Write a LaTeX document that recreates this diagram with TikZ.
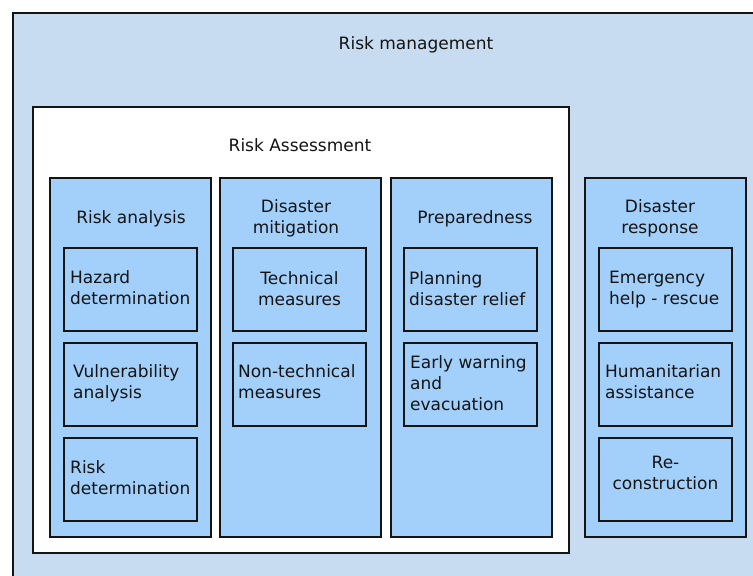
\documentclass[tikz,border=0pt]{standalone}
\usepackage{fontspec}
\setmainfont{DejaVu Sans}
\definecolor{outerblue}{RGB}{199,220,240}
\definecolor{colblue}{RGB}{163,208,251}
\definecolor{ink}{RGB}{20,20,20}
\tikzset{
  txt/.style={inner sep=0pt, align=left, font=\fontsize{17}{21}\selectfont, text=ink},
  ctxt/.style={txt, align=center},
  colbox/.style={draw=ink, line width=2pt, fill=colblue, minimum width=161pt, minimum height=359pt, inner sep=0pt},
  ibox/.style={draw=ink, line width=2pt, fill=colblue, minimum width=133pt, minimum height=83pt, inner sep=0pt},
}
\begin{document}
\begin{tikzpicture}[x=1pt,y=-1pt]
\useasboundingbox (0,0) rectangle (753,576);
\clip (0,0) rectangle (753,576);
% outer
\node[draw=ink, line width=2pt, fill=outerblue, minimum width=760pt, minimum height=580pt, inner sep=0pt, anchor=north west] (outer) at (12,12) {};
\node[txt] (tmgmt) at (416,45) {Risk management};
% risk assessment
\node[draw=ink, line width=2pt, fill=white, minimum width=536pt, minimum height=446pt, inner sep=0pt, anchor=north west] (assess) at (32,106) {};
\node[txt] (tassess) at (300,145) {Risk Assessment};
% columns
\node[colbox, anchor=north west] (c1) at (49,177) {};
\node[colbox, anchor=north west] (c2) at (219,177) {};
\node[colbox, anchor=north west] (c3) at (390,177) {};
\node[colbox, anchor=north west] (c4) at (584,177) {};
\node[ctxt] (t1) at (131,219) {Risk analysis};
\node[ctxt] (t2) at (296,218.5) {Disaster\\mitigation};
\node[ctxt] (t3) at (475,219) {Preparedness};
\node[ctxt] (t4) at (660,218.5) {Disaster\\response};
% column 1
\node[ibox, anchor=north west] (b11) at (63,247) {};
\node[ibox, anchor=north west] (b12) at (63,342) {};
\node[ibox, anchor=north west] (b13) at (63,437) {};
\node[txt, anchor=west] at ([xshift=7pt,yshift=2pt]b11.west) {Hazard\\determination};
\node[txt, anchor=west] at ([xshift=10pt,yshift=1pt]b12.west) {Vulnerability\\analysis};
\node[txt, anchor=west] at ([xshift=7pt,yshift=2pt]b13.west) {Risk\\determination};
% column 2
\node[ibox, anchor=north west] (b21) at (232,247) {};
\node[ibox, anchor=north west] (b22) at (232,342) {};
\node[ctxt] at ([yshift=1pt]b21.center) {Technical\\measures};
\node[txt, anchor=west] at ([xshift=6pt,yshift=3pt]b22.west) {Non-technical\\measures};
% column 3
\node[ibox, anchor=north west] (b31) at (403,247) {};
\node[ibox, anchor=north west] (b32) at (403,342) {};
\node[txt, anchor=west] at ([xshift=6pt,yshift=1pt]b31.west) {Planning\\disaster relief};
\node[txt, anchor=west] at ([xshift=7pt,yshift=1pt]b32.west) {Early warning\\and\\evacuation};
% column 4
\node[ibox, anchor=north west] (b41) at (598,247) {};
\node[ibox, anchor=north west] (b42) at (598,342) {};
\node[ibox, anchor=north west] (b43) at (598,437) {};
\node[txt, anchor=west] at ([xshift=11pt]b41.west) {Emergency\\help - rescue};
\node[txt, anchor=west] at ([xshift=7pt,yshift=3pt]b42.west) {Humanitarian\\assistance};
\node[ctxt] at ([yshift=7pt]b43.center) {Re-\\construction};
\end{tikzpicture}
\end{document}
